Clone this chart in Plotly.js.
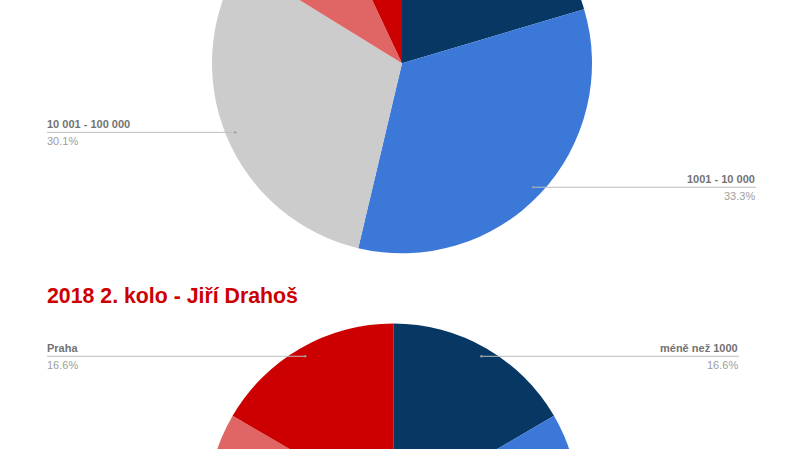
<!DOCTYPE html>
<html>
<head>
<meta charset="utf-8">
<script src="https://cdn.plot.ly/plotly-3.0.1.min.js"></script>
<style>
  html, body { margin: 0; padding: 0; overflow: hidden; background: #fff; width: 800px; height: 449px; }
  #wrap { position: absolute; left: 0; top: -140px; }
</style>
</head>
<body>
<div id="wrap"><div id="chart"></div></div>
<script>
// ---- data ----
const categories = ["méně než 1000", "1001 - 10 000", "10 001 - 100 000", "nad 100 000", "Praha"];
const colors = ["#073763", "#3c78d8", "#cccccc", "#e06666", "#cc0000"];
const valuesTop = [20.4, 33.3, 30.1, 9.2, 7.0];        // chart cut off at top (title not visible)
const valuesDrahos = [16.6, 30.0, 28.4, 8.4, 16.6];    // 2018 2. kolo - Jiří Drahoš
const titleDrahos = "2018 2. kolo - Jiří Drahoš";

// ---- layout geometry (pixels on the visible page) ----
const W = 800, H = 860, T = 140;
const pies = [
  { values: valuesTop, cx: 402, cy: 63.3, r: 190, labels: [
      { idx: 2, side: "left", x: 47 },
      { idx: 1, side: "right", x: 756 } ] },
  { values: valuesDrahos, cx: 393.3, cy: 509.5, r: 186, labels: [
      { idx: 4, side: "left", x: 47 },
      { idx: 0, side: "right", x: 739 } ] }
];
const px = x => x / W;
const py = y => 1 - (y + T) / H;
const FONT = "Liberation Sans, Arial, sans-serif";

const traces = [], annotations = [], shapes = [];
pies.forEach(p => {
  traces.push({
    type: "pie",
    values: p.values,
    labels: categories,
    marker: { colors: colors, line: { width: 0 } },
    sort: false,
    direction: "clockwise",
    rotation: 0,
    textinfo: "none",
    hoverinfo: "label+percent",
    showlegend: false,
    domain: {
      x: [px(p.cx - p.r), px(p.cx + p.r)],
      y: [py(p.cy + p.r), py(p.cy - p.r)]
    }
  });
  const total = p.values.reduce((a, b) => a + b, 0);
  p.labels.forEach(l => {
    let cum = 0;
    for (let i = 0; i < l.idx; i++) cum += p.values[i];
    const mid = (cum + p.values[l.idx] / 2) / total * 2 * Math.PI;
    const d = 0.95 * p.r;
    const ex = p.cx + d * Math.sin(mid);
    const ey = p.cy - d * Math.cos(mid);
    const pct = (p.values[l.idx] / total * 100).toFixed(1) + "%";
    shapes.push({ type: "line", xref: "paper", yref: "paper",
      x0: px(l.x), x1: px(ex), y0: py(ey), y1: py(ey),
      line: { color: "#bdbdbd", width: 1 } });
    shapes.push({ type: "circle", xref: "paper", yref: "paper",
      x0: px(ex - 1.2), x1: px(ex + 1.2), y0: py(ey + 1.2), y1: py(ey - 1.2),
      fillcolor: "#9e9e9e", line: { width: 0 } });
    const anchor = l.side === "left" ? "left" : "right";
    const ax = l.side === "left" ? l.x - 1 : l.x;
    annotations.push({ xref: "paper", yref: "paper", x: px(ax), y: py(ey - 1),
      xanchor: anchor, yanchor: "bottom", showarrow: false, borderpad: 0,
      text: "<b>" + categories[l.idx] + "</b>",
      font: { family: FONT, size: 11, color: "#737373" } });
    annotations.push({ xref: "paper", yref: "paper", x: px(ax), y: py(ey + 2),
      xanchor: anchor, yanchor: "top", showarrow: false, borderpad: 0,
      text: pct,
      font: { family: FONT, size: 11, color: "#9e9e9e" } });
  });
});

annotations.push({ xref: "paper", yref: "paper", x: px(46), y: py(295.5),
  xanchor: "left", yanchor: "middle", showarrow: false, borderpad: 0,
  text: "<b>" + titleDrahos + "</b>",
  font: { family: FONT, size: 21.3, color: "#cc0000" } });

Plotly.newPlot("chart", traces, {
  width: W, height: H,
  margin: { l: 0, r: 0, t: 0, b: 0 },
  paper_bgcolor: "#ffffff",
  annotations: annotations,
  shapes: shapes
}, { displayModeBar: false, staticPlot: true });
</script>
</body>
</html>
